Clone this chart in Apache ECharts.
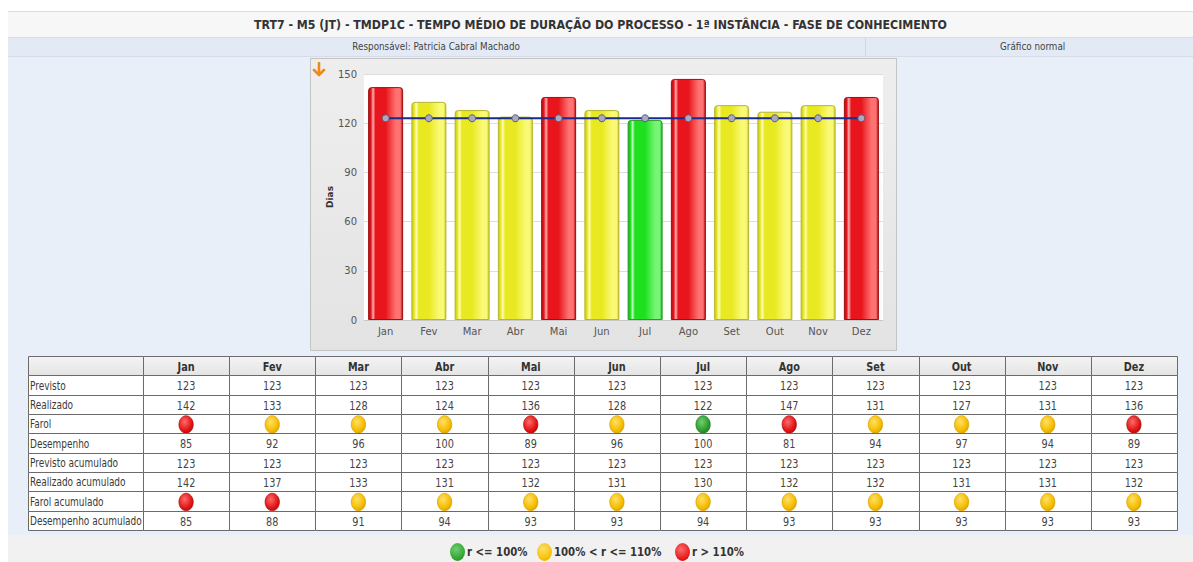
<!DOCTYPE html>
<html><head><meta charset="utf-8">
<script src="https://cdn.jsdelivr.net/npm/echarts@6/dist/echarts.min.js"></script>
<style>
html,body{margin:0;padding:0;}
body{width:1193px;height:562px;position:relative;overflow:hidden;background:#fff;font-family:'DejaVu Sans Condensed','DejaVu Sans',sans-serif;}
.abs{position:absolute;box-sizing:border-box;}
.sq{display:inline-block;transform-origin:center center;}
#titlebar{left:8px;top:11px;width:1185px;height:26px;background:#f7f7f7;border-top:1px solid #dcdcdc;text-align:center;line-height:25px;font-weight:bold;font-size:13px;color:#333;z-index:1;}
#titlebar .sq{transform:scaleX(0.943);}
#resp{left:8px;top:37px;width:857px;height:20px;background:#e3eaf5;border-top:1px solid #d6dde8;border-bottom:1px solid #d6dde8;text-align:center;line-height:18px;font-size:11px;color:#444;z-index:1;}
#graf{left:865px;top:37px;width:328px;height:20px;background:#e3eaf5;border-top:1px solid #d6dde8;border-bottom:1px solid #d6dde8;border-left:1px solid #d0d7e2;text-align:center;line-height:18px;font-size:11px;color:#444;z-index:1;padding-left:6px;}
#resp .sq,#graf .sq{transform:scaleX(0.89);}
#main{left:8px;top:57px;width:1185px;height:478px;background:#e9eff9;z-index:0;}
#bottom{left:8px;top:535px;width:1185px;height:27px;background:#f1f1f1;z-index:0;}
#panel{left:310px;top:58px;width:587px;height:293px;border:1px solid #c4c4c4;background:linear-gradient(to bottom,#eeeeee 0%,#e9e9e9 50%,#e3e3e3 100%);z-index:1;}
#arrow{left:312px;top:62px;width:14px;height:16px;z-index:3;}
#chart{left:0;top:0;width:1193px;height:562px;z-index:2;}
#legend{left:4px;top:542px;width:1185px;height:20px;z-index:3;display:flex;justify-content:center;align-items:center;font-size:12px;font-weight:bold;color:#333;font-family:'DejaVu Sans Condensed','DejaVu Sans',sans-serif;}
.dot{display:inline-block;width:15px;height:18px;border-radius:50%;margin-right:2px;}
.item{display:flex;align-items:center;margin:0 5px;}
.lt{display:inline-block;transform:scaleX(0.94);transform-origin:left center;margin-right:-4px;}
</style></head>
<body>
<div id="titlebar" class="abs"><span class="sq">TRT7 - M5 (JT) - TMDP1C - TEMPO MÉDIO DE DURAÇÃO DO PROCESSO - 1ª INSTÂNCIA - FASE DE CONHECIMENTO</span></div>
<div id="resp" class="abs"><span class="sq">Responsável: Patricia Cabral Machado</span></div>
<div id="graf" class="abs"><span class="sq">Gráfico normal</span></div>
<div id="main" class="abs"></div>
<div id="bottom" class="abs"></div>
<div id="panel" class="abs"></div>
<svg id="arrow" class="abs" viewBox="0 0 14 16"><path d="M7 1 L7 13 M2 8 L7 13 L12 8" stroke="#f0891a" stroke-width="2.6" fill="none" stroke-linecap="round"/></svg>
<div id="chart" class="abs"></div>
<div id="legend" class="abs">
 <span class="item"><span class="dot" style="background:radial-gradient(circle at 40% 35%,#6fd06f,#2e9e2e 70%,#227a22)"></span><span class="lt">r &lt;= 100%</span></span>
 <span class="item"><span class="dot" style="background:radial-gradient(circle at 40% 35%,#ffe066,#f5bd00 70%,#d9a000)"></span><span class="lt">100% &lt; r &lt;= 110%</span></span>
 <span class="item"><span class="dot" style="background:radial-gradient(circle at 40% 35%,#ff6a6a,#e01515 70%,#b00d0d)"></span><span class="lt">r &gt; 110%</span></span>
</div>
<script>
// ---- data ----
const meses = ['Jan','Fev','Mar','Abr','Mai','Jun','Jul','Ago','Set','Out','Nov','Dez'];
const previsto = [123,123,123,123,123,123,123,123,123,123,123,123];
const realizado = [142,133,128,124,136,128,122,147,131,127,131,136];
const farol = ['vermelho','amarelo','amarelo','amarelo','vermelho','amarelo','verde','vermelho','amarelo','amarelo','amarelo','vermelho'];
const desempenho = [85,92,96,100,89,96,100,81,94,97,94,89];
const previstoAcumulado = [123,123,123,123,123,123,123,123,123,123,123,123];
const realizadoAcumulado = [142,137,133,131,132,131,130,132,132,131,131,132];
const farolAcumulado = ['vermelho','vermelho','amarelo','amarelo','amarelo','amarelo','amarelo','amarelo','amarelo','amarelo','amarelo','amarelo'];
const desempenhoAcumulado = [85,88,91,94,93,93,94,93,93,93,93,93];
const linhas = ['Previsto','Realizado','Farol','Desempenho','Previsto acumulado','Realizado acumulado','Farol acumulado','Desempenho acumulado'];
const yMin = 0, yMax = 150, yInterval = 30;

// ---- styles ----
const barPal = {
  vermelho:{edge:'#b80e13', hi:'#ffb0b0', base:'#e8161c', light:'#ff7272', border:'#9e0e12'},
  amarelo:{edge:'#c9c91a', hi:'#fdfdb8', base:'#e9e922', light:'#f9f975', border:'#b5b535'},
  verde:{edge:'#15b015', hi:'#b8ffb8', base:'#1fe01f', light:'#78f578', border:'#2a9a2a'}
};
const dotPal = {
  vermelho:['#ff6a6a','#e01515','#b00d0d'],
  amarelo:['#ffe066','#f5bd00','#d9a000'],
  verde:['#6fd06f','#2e9e2e','#227a22']
};
function barGrad(k){
  const p = barPal[k];
  return {type:'linear',x:0,y:0,x2:1,y2:0,colorStops:[
    {offset:0,color:p.edge},{offset:0.07,color:p.base},{offset:0.13,color:p.hi},
    {offset:0.2,color:p.base},{offset:0.5,color:p.base},{offset:0.8,color:p.light},
    {offset:0.93,color:p.light},{offset:1,color:p.edge}]};
}
function dotGrad(k){
  const p = dotPal[k];
  return {type:'radial',x:0.4,y:0.35,r:0.7,colorStops:[{offset:0,color:p[0]},{offset:0.7,color:p[1]},{offset:1,color:p[2]}]};
}
const headGrad = {type:'linear',x:0,y:0,x2:0,y2:1,colorStops:[{offset:0,color:'#f4f4f4'},{offset:1,color:'#e4e4e4'}]};

const rowsData = [previsto, realizado, farol, desempenho, previstoAcumulado, realizadoAcumulado, farolAcumulado, desempenhoAcumulado];
const tableItems = [];
for (let r = 0; r <= linhas.length; r++) for (let i = 0; i < meses.length; i++) tableItems.push([i, r]);

const FONT = "'DejaVu Sans Condensed','DejaVu Sans',sans-serif";
const LABELW = 115;

function txt(x, y, text, align, font, fill, sq){
  return {type:'text', x:x, y:y, scaleX:sq, style:{x:0, y:0, text:text, align:align, verticalAlign:'middle', fill:fill, font:font}};
}

function renderCell(params, api){
  const i = api.value(0), r = api.value(1);
  const c = api.coord([i, r]);
  const s = api.size([1, 1]);
  const l = Math.round(c[0] - s[0]/2), rt = Math.round(c[0] + s[0]/2);
  const t = Math.round(c[1] - s[1]/2), b = Math.round(c[1] + s[1]/2);
  const cy = (t + b) / 2 + 1;
  const ch = [];
  const fill = r === 0 ? headGrad : '#ffffff';
  ch.push({type:'rect', shape:{x:l+0.5,y:t+0.5,width:rt-l,height:b-t}, style:{fill:fill, stroke:'#6b6b6b', lineWidth:1}});
  if (i === 0) {
    ch.push({type:'rect', shape:{x:l-LABELW+0.5,y:t+0.5,width:LABELW,height:b-t}, style:{fill:fill, stroke:'#6b6b6b', lineWidth:1}});
    if (r > 0) ch.push(txt(l-LABELW+2, cy, linhas[r-1], 'left', '12px ' + FONT, '#3a3a3a', 0.83));
  }
  if (r === 0) {
    ch.push(txt(c[0], cy, meses[i], 'center', 'bold 12px ' + FONT, '#333', 0.9));
  } else {
    const v = rowsData[r-1][i];
    if (typeof v === 'string') {
      ch.push({type:'circle', x:c[0], y:cy, scaleY:1.22, shape:{cx:0,cy:0,r:7.2}, style:{fill:dotGrad(v), stroke:dotPal[v][2], lineWidth:0.6}});
    } else {
      ch.push(txt(c[0], cy, String(v), 'center', '12px ' + FONT, '#444', 0.9));
    }
  }
  return {type:'group', children:ch};
}

const chart = echarts.init(document.getElementById('chart'), null, {renderer:'svg'});
chart.setOption({
  backgroundColor:'transparent',
  animation:false,
  grid:[
    {left:364, top:74, width:519, height:246, show:true, backgroundColor:'#ffffff', borderWidth:0},
    {left:143, top:356, width:1034, height:174, show:false}
  ],
  xAxis:[
    {gridIndex:0, type:'category', data:meses, axisTick:{show:false},
     axisLine:{lineStyle:{color:'#c8c8c8'}},
     axisLabel:{color:'#555', fontSize:10, fontFamily:'DejaVu Sans', margin:6}},
    {gridIndex:1, type:'category', data:meses, show:false}
  ],
  yAxis:[
    {gridIndex:0, type:'value', min:yMin, max:yMax, interval:yInterval,
     name:'Dias', nameLocation:'middle', nameGap:30, nameRotate:90,
     nameTextStyle:{fontSize:9, fontWeight:'bold', color:'#333', fontFamily:'DejaVu Sans'},
     axisLine:{show:false}, axisTick:{show:false},
     axisLabel:{color:'#555', fontSize:10, fontFamily:'DejaVu Sans', margin:7},
     splitLine:{lineStyle:{color:'#dcdcdc'}}},
    {gridIndex:1, type:'category', data:[''].concat(linhas), inverse:true, show:false}
  ],
  series:[
    {type:'bar', xAxisIndex:0, yAxisIndex:0, barWidth:35, z:2,
     data: realizado.map((v,i)=>({value:v, itemStyle:{color:barGrad(farol[i]), borderColor:barPal[farol[i]].border, borderWidth:1, borderRadius:[3,3,0,0]}}))},
    {type:'line', xAxisIndex:0, yAxisIndex:0, data:previsto, z:3,
     lineStyle:{color:'#1b2a8c', width:2},
     symbol:'circle', symbolSize:7,
     itemStyle:{color:'#a9a9c6', borderColor:'#5a5a7a', borderWidth:1}},
    {type:'custom', xAxisIndex:1, yAxisIndex:1, data:tableItems, renderItem:renderCell, z:1}
  ]
});
</script>
</body></html>
